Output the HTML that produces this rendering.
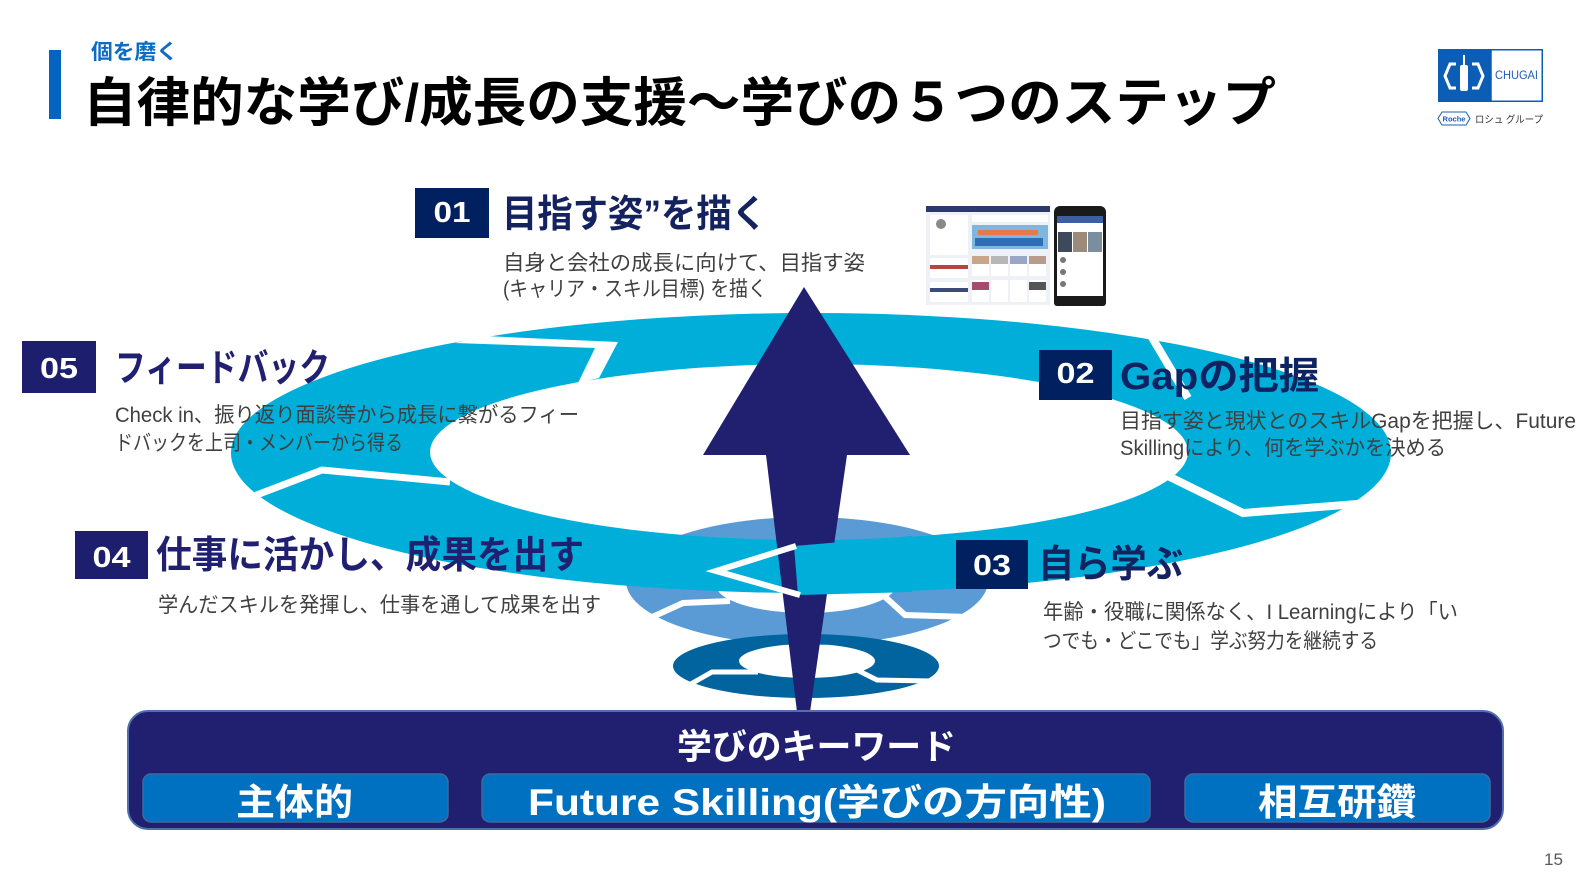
<!DOCTYPE html>
<html><head><meta charset="utf-8"><style>
html,body{margin:0;padding:0;background:#fff;}
svg{display:block;}
text{font-family:"Liberation Sans","Noto Sans CJK JP",sans-serif;}
</style></head><body>
<svg width="1591" height="893" viewBox="0 0 1591 893" xmlns="http://www.w3.org/2000/svg">
<rect width="1591" height="893" fill="#fff"/>

<!-- header -->
<rect x="49" y="50" width="12" height="69" fill="#0563C1"/>
<text x="91" y="59" font-size="21" font-weight="700" fill="#0A6CC4" textLength="87" lengthAdjust="spacingAndGlyphs">個を磨く</text>
<text x="83" y="121" font-size="53" font-weight="700" fill="#000" textLength="1193" lengthAdjust="spacingAndGlyphs">自律的な学び/成長の支援〜学びの５つのステップ</text>

<!-- logo -->
<rect x="1438" y="49" width="53" height="53" fill="#0B5DB6"/>
<rect x="1491" y="49.75" width="51.25" height="51.5" fill="#fff" stroke="#0B5DB6" stroke-width="1.5"/>
<polyline points="1456,64 1450,64 1445,76 1450,88 1456,88" fill="none" stroke="#fff" stroke-width="3"/>
<polyline points="1472,64 1478,64 1483,76 1478,88 1472,88" fill="none" stroke="#fff" stroke-width="3"/>
<rect x="1460" y="65" width="8" height="26" rx="2" fill="#fff"/>
<rect x="1463" y="55" width="2" height="11" fill="#fff"/>
<text x="1495" y="79" font-size="12" fill="#1F5FB0" textLength="43" lengthAdjust="spacingAndGlyphs">CHUGAI</text>
<polygon points="1438,118.5 1442,112 1466,112 1470,118.5 1466,125 1442,125" fill="#fff" stroke="#1A5FB4" stroke-width="1"/>
<text x="1454" y="121.5" font-size="7.5" font-weight="700" fill="#1A5FB4" text-anchor="middle">Roche</text>
<text x="1475" y="123" font-size="10" fill="#333" textLength="68" lengthAdjust="spacingAndGlyphs">ロシュ グループ</text>

<!-- screenshot mock -->
<rect x="926" y="206" width="124" height="99" fill="#EEF1F5"/>
<rect x="926" y="206" width="124" height="6" fill="#2B3A6B"/>
<rect x="930" y="215" width="38" height="40" fill="#fff"/>
<circle cx="941" cy="224" r="5" fill="#888"/>
<rect x="930" y="258" width="38" height="20" fill="#fff"/>
<rect x="930" y="265" width="38" height="4" fill="#B5463C"/>
<rect x="930" y="282" width="38" height="20" fill="#fff"/>
<rect x="930" y="288" width="38" height="4" fill="#3B4A78"/>
<rect x="972" y="215" width="76" height="7" fill="#fff"/>
<rect x="972" y="225" width="76" height="24" fill="#7FB6E0"/>
<rect x="978" y="230" width="60" height="5" fill="#E8774A"/>
<rect x="975" y="238" width="68" height="8" fill="#2F6DB4"/>
<rect x="972" y="256" width="17" height="20" fill="#fff"/>
<rect x="991" y="256" width="17" height="20" fill="#fff"/>
<rect x="1010" y="256" width="17" height="20" fill="#fff"/>
<rect x="1029" y="256" width="17" height="20" fill="#fff"/>
<rect x="972" y="256" width="17" height="8" fill="#C9A68A"/>
<rect x="991" y="256" width="17" height="8" fill="#B7B7B7"/>
<rect x="1010" y="256" width="17" height="8" fill="#9AA7C4"/>
<rect x="1029" y="256" width="17" height="8" fill="#B89B8A"/>
<rect x="972" y="280" width="17" height="22" fill="#fff"/>
<rect x="991" y="280" width="17" height="22" fill="#fff"/>
<rect x="1010" y="280" width="17" height="22" fill="#fff"/>
<rect x="1029" y="280" width="17" height="22" fill="#fff"/>
<rect x="972" y="282" width="17" height="8" fill="#A24C6E"/>
<rect x="1029" y="282" width="17" height="8" fill="#555"/>
<rect x="1054" y="206" width="52" height="100" rx="6" fill="#1A1A1A"/>
<rect x="1057" y="216" width="46" height="80" fill="#fff"/>
<rect x="1057" y="216" width="46" height="7" fill="#3B5FA0"/>
<rect x="1058" y="232" width="14" height="20" fill="#3C4A5C"/>
<rect x="1073" y="232" width="14" height="20" fill="#9C8A7A"/>
<rect x="1088" y="232" width="14" height="20" fill="#7A8E9E"/>
<circle cx="1063" cy="260" r="3" fill="#777"/>
<circle cx="1063" cy="272" r="3" fill="#777"/>
<circle cx="1063" cy="284" r="3" fill="#777"/>
<rect x="1054" y="296" width="52" height="10" rx="3" fill="#1A1A1A"/>

<!-- medium ring -->
<path fill="#5B9BD5" fill-rule="evenodd" d="M626,581 a181,64 0 1 0 362,0 a181,64 0 1 0 -362,0 Z M716,585 a90,28 0 1 0 180,0 a90,28 0 1 0 -180,0 Z"/>
<polyline points="650,618 683,603 730,601" fill="none" stroke="#fff" stroke-width="6"/>
<polyline points="883,595 905,615 968,617" fill="none" stroke="#fff" stroke-width="6"/>

<!-- small ring -->
<path fill="#02649E" fill-rule="evenodd" d="M673,666 a133,32 0 1 0 266,0 a133,32 0 1 0 -266,0 Z M739,661 a68,17 0 1 0 136,0 a68,17 0 1 0 -136,0 Z"/>
<polyline points="689,685 712,672 758,672" fill="none" stroke="#fff" stroke-width="5"/>
<polyline points="857,670 877,680 932,681" fill="none" stroke="#fff" stroke-width="5"/>

<!-- big ring -->
<path fill="#00AFD9" fill-rule="evenodd" d="M231,453 a580,140 0 1 0 1160,0 a580,140 0 1 0 -1160,0 Z M430,452 a379,88 0 1 0 758,0 a379,88 0 1 0 -758,0 Z"/>
<polygon points="484,336 618,342 599,378 578,383 595,348 455,343" fill="#fff"/>
<polyline points="246,499 322,470 450,482" fill="none" stroke="#fff" stroke-width="7"/>
<line x1="1144" y1="324" x2="1188" y2="398" stroke="#fff" stroke-width="8"/>
<polyline points="1166,475 1243,513 1370,503" fill="none" stroke="#fff" stroke-width="8"/>

<!-- arrow -->
<polygon points="804,287 910,455 703,455" fill="#201F70"/>
<polygon points="766,455 847,455 810,712 797,712" fill="#201F70"/>

<!-- spiral overlap at bottom center -->
<polygon points="794,546 912,536 912,592 798,595" fill="#00AFD9"/>
<polyline points="796,546 716,571 800,595" fill="none" stroke="#fff" stroke-width="6" stroke-linejoin="miter"/>

<!-- 01 -->
<rect x="415" y="188" width="74" height="50" fill="#002060"/>
<text x="452" y="222" font-size="29" font-weight="700" fill="#fff" text-anchor="middle" textLength="37" lengthAdjust="spacingAndGlyphs">01</text>
<text x="502" y="227" font-size="38" font-weight="700" fill="#14225F" textLength="265" lengthAdjust="spacingAndGlyphs">目指す姿”を描く</text>
<text x="503" y="270" font-size="21" fill="#404040" textLength="362" lengthAdjust="spacingAndGlyphs">自身と会社の成長に向けて、目指す姿</text>
<text x="503" y="296" font-size="21" fill="#404040" textLength="264" lengthAdjust="spacingAndGlyphs">(キャリア・スキル目標) を描く</text>

<!-- 02 -->
<rect x="1039" y="350" width="73" height="50" fill="#002060"/>
<text x="1075.5" y="383" font-size="29" font-weight="700" fill="#fff" text-anchor="middle" textLength="38" lengthAdjust="spacingAndGlyphs">02</text>
<text x="1120" y="389" font-size="38" font-weight="700" fill="#0E2462" textLength="199" lengthAdjust="spacingAndGlyphs">Gapの把握</text>
<text x="1120" y="428" font-size="21" fill="#404040" textLength="456" lengthAdjust="spacingAndGlyphs">目指す姿と現状とのスキルGapを把握し、Future</text>
<text x="1120" y="455" font-size="21" fill="#404040" textLength="326" lengthAdjust="spacingAndGlyphs">Skillingにより、何を学ぶかを決める</text>

<!-- 03 -->
<rect x="956" y="540" width="72" height="49" fill="#002060"/>
<text x="992" y="575" font-size="29" font-weight="700" fill="#fff" text-anchor="middle" textLength="38" lengthAdjust="spacingAndGlyphs">03</text>
<text x="1038" y="577" font-size="38" font-weight="700" fill="#14225F" textLength="145" lengthAdjust="spacingAndGlyphs">自ら学ぶ</text>
<text x="1043" y="619" font-size="21" fill="#404040" textLength="415" lengthAdjust="spacingAndGlyphs">年齢・役職に関係なく、I Learningにより「い</text>
<text x="1043" y="648" font-size="21" fill="#404040" textLength="335" lengthAdjust="spacingAndGlyphs">つでも・どこでも」学ぶ努力を継続する</text>

<!-- 05 -->
<rect x="22" y="341" width="74" height="52" fill="#1E1E6E"/>
<text x="59" y="378" font-size="29" font-weight="700" fill="#fff" text-anchor="middle" textLength="38" lengthAdjust="spacingAndGlyphs">05</text>
<text x="115" y="381" font-size="38" font-weight="700" fill="#201F70" textLength="215" lengthAdjust="spacingAndGlyphs">フィードバック</text>
<text x="115" y="422" font-size="21" fill="#404040" textLength="464" lengthAdjust="spacingAndGlyphs">Check in、振り返り面談等から成長に繋がるフィー</text>
<text x="115" y="450" font-size="21" fill="#404040" textLength="288" lengthAdjust="spacingAndGlyphs">ドバックを上司・メンバーから得る</text>

<!-- 04 -->
<rect x="75" y="531" width="73" height="48" fill="#1E1E6E"/>
<text x="111.5" y="567" font-size="29" font-weight="700" fill="#fff" text-anchor="middle" textLength="38" lengthAdjust="spacingAndGlyphs">04</text>
<text x="156" y="568" font-size="38" font-weight="700" fill="#201F70" textLength="428" lengthAdjust="spacingAndGlyphs">仕事に活かし、成果を出す</text>
<text x="158" y="612" font-size="21" fill="#404040" textLength="443" lengthAdjust="spacingAndGlyphs">学んだスキルを発揮し、仕事を通して成果を出す</text>

<!-- bottom keyword bar -->
<rect x="128" y="711" width="1375" height="118" rx="20" fill="#201F70" stroke="#4F6FAF" stroke-width="2"/>
<text x="677" y="759" font-size="35" font-weight="700" fill="#fff" textLength="279" lengthAdjust="spacingAndGlyphs">学びのキーワード</text>
<rect x="143" y="774" width="305" height="48" rx="8" fill="#0070C0" stroke="#3F6A9E" stroke-width="1.5"/>
<rect x="482" y="774" width="668" height="48" rx="8" fill="#0070C0" stroke="#3F6A9E" stroke-width="1.5"/>
<rect x="1185" y="774" width="305" height="48" rx="8" fill="#0070C0" stroke="#3F6A9E" stroke-width="1.5"/>
<text x="236" y="815" font-size="37" font-weight="700" fill="#fff" textLength="117" lengthAdjust="spacingAndGlyphs">主体的</text>
<text x="528" y="815" font-size="37" font-weight="700" fill="#fff" textLength="578" lengthAdjust="spacingAndGlyphs">Future Skilling(学びの方向性)</text>
<text x="1258" y="815" font-size="37" font-weight="700" fill="#fff" textLength="158" lengthAdjust="spacingAndGlyphs">相互研鑽</text>

<!-- page number -->
<text x="1544" y="865" font-size="17" fill="#595959" textLength="19" lengthAdjust="spacingAndGlyphs">15</text>
</svg>
</body></html>
